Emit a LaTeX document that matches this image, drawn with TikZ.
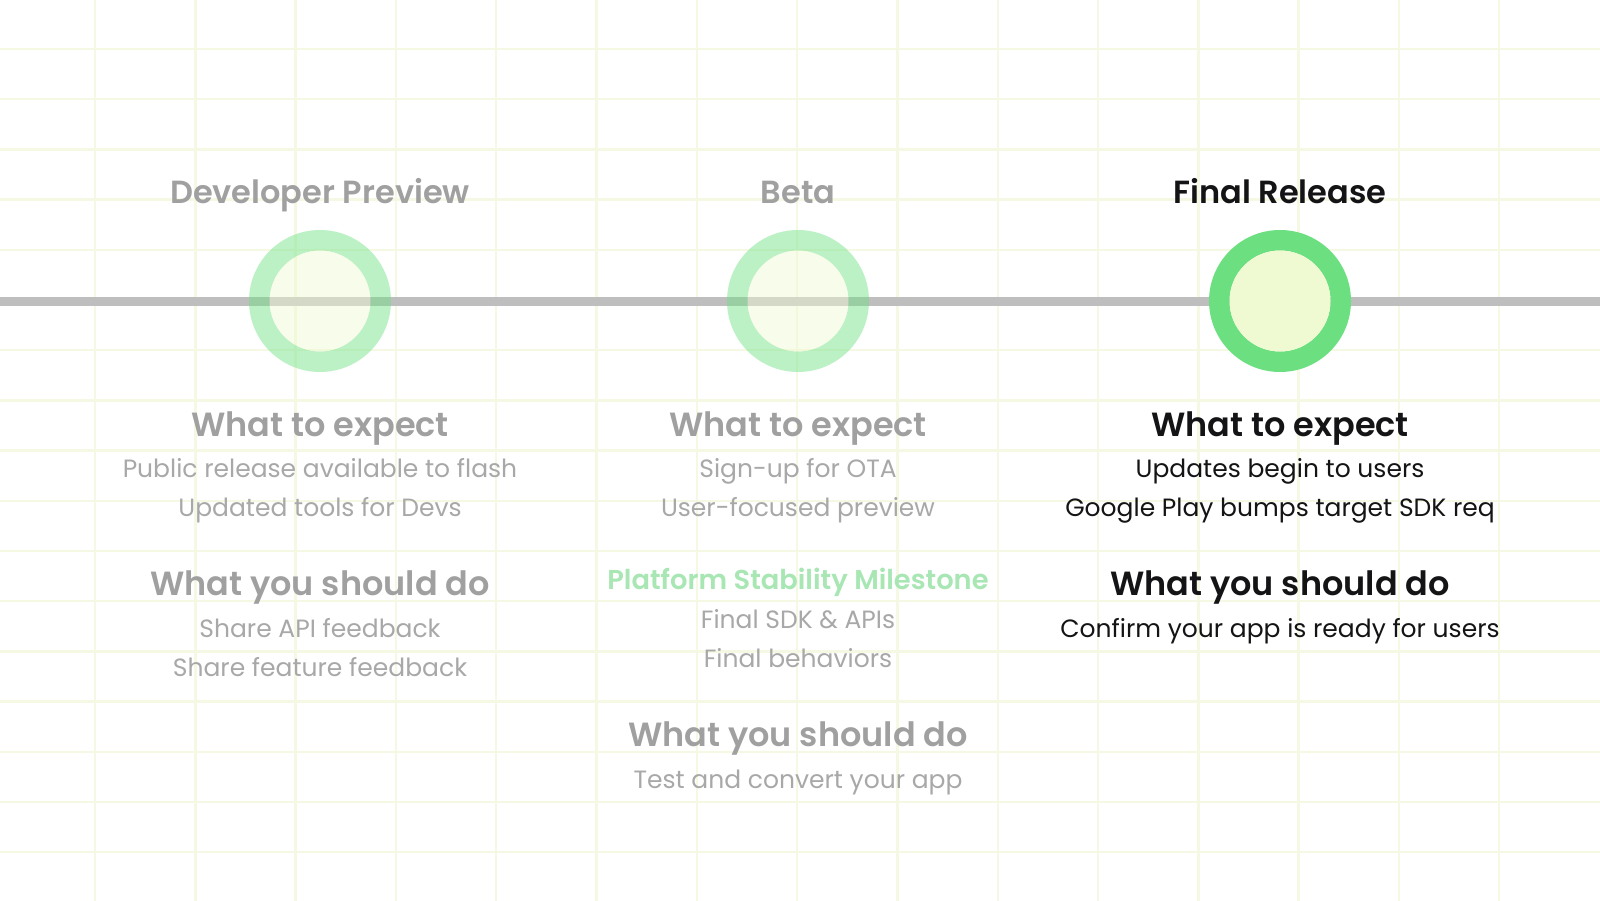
\documentclass[tikz,border=0pt]{standalone}
\usepackage{fontspec}
\setmainfont{Poppins}[BoldFont={* SemiBold}]
\definecolor{gridc}{RGB}{245,249,228}
\definecolor{linec}{RGB}{190,190,190}
\definecolor{ringc}{RGB}{108,224,128}
\definecolor{innerc}{RGB}{240,250,210}
\definecolor{fadehead}{RGB}{160,160,160}
\definecolor{fadebody}{RGB}{168,168,168}
\definecolor{darktext}{RGB}{20,20,22}
\definecolor{psgreen}{RGB}{168,230,180}
\tikzset{
  gridline/.style={draw=gridc, line width=2.4pt},
  timeline/.style={draw=linec, line width=9pt},
  titletext/.style={anchor=base, inner sep=0pt, font=\fontsize{32}{40}\selectfont\bfseries},
  headtext/.style={anchor=base, inner sep=0pt, font=\fontsize{33.5}{40}\selectfont\bfseries},
  bodytext/.style={anchor=base, inner sep=0pt, font=\fontsize{25}{30}\selectfont},
  faded/.style={text=fadebody},
  fadedhead/.style={text=fadehead},
  dark/.style={text=darktext},
}
\begin{document}
\begin{tikzpicture}[x=1pt,y=-1pt]
\useasboundingbox (0,0) rectangle (1600,901);
\fill[white] (0,0) rectangle (1600,901);
% grid
\foreach \i in {0,...,14} \draw[gridline] ({95+100.3*\i},0) -- ({95+100.3*\i},901);
\foreach \j in {0,...,16} \draw[gridline] (0,{49+50.2*\j}) -- (1600,{49+50.2*\j});
% timeline
\coordinate (L) at (0,301);
\coordinate (R) at (1600,301);
\draw[timeline] (L) -- (R);
% milestones
\coordinate (dp) at (320,301);
\coordinate (bt) at (798,301);
\coordinate (fr) at (1280,301);
\foreach \c in {dp,bt}{
  \fill[ringc, opacity=0.45, even odd rule] (\c) circle (71) (\c) circle (50.5);
  \fill[innerc, opacity=0.45] (\c) circle (50.5);
}
\fill[ringc, even odd rule] (fr) circle (71) (fr) circle (50.5);
\fill[innerc] (fr) circle (50.5);
% titles
\node[titletext, fadedhead] (t1) at (320,204) {Developer Preview};
\node[titletext, fadedhead] (t2) at (798,204) {Beta};
\node[titletext, dark] (t3) at (1280,204) {Final Release};
% Developer Preview column
\node[headtext, fadedhead] (d1) at (320,436) {What to expect};
\node[bodytext, faded] (d2) at (320,477.5) {Public release available to flash};
\node[bodytext, faded] (d3) at (320,516.5) {Updated tools for Devs};
\node[headtext, fadedhead] (d4) at (320,595) {What you should do};
\node[bodytext, faded] (d5) at (320,637.5) {Share API feedback};
\node[bodytext, faded] (d6) at (320,676) {Share feature feedback};
% Beta column
\node[headtext, fadedhead] (b1) at (798,436) {What to expect};
\node[bodytext, faded] (b2) at (798,477.5) {Sign-up for OTA};
\node[bodytext, faded] (b3) at (798,516.5) {User-focused preview};
\node[bodytext, text=psgreen, font=\fontsize{27.3}{30}\selectfont\bfseries] (b4) at (798,589.5) {Platform Stability Milestone};
\node[bodytext, faded] (b5) at (798,628.5) {Final SDK \& APIs};
\node[bodytext, faded] (b6) at (798,667) {Final behaviors};
\node[headtext, fadedhead] (b7) at (798,746) {What you should do};
\node[bodytext, faded] (b8) at (798,788) {Test and convert your app};
% Final Release column
\node[headtext, dark] (f1) at (1280,436) {What to expect};
\node[bodytext, dark] (f2) at (1280,477.5) {Updates begin to users};
\node[bodytext, dark] (f3) at (1280,516.5) {Google Play bumps target SDK req};
\node[headtext, dark] (f4) at (1280,595) {What you should do};
\node[bodytext, dark] (f5) at (1280,637.5) {Confirm your app is ready for users};
\end{tikzpicture}
\end{document}
